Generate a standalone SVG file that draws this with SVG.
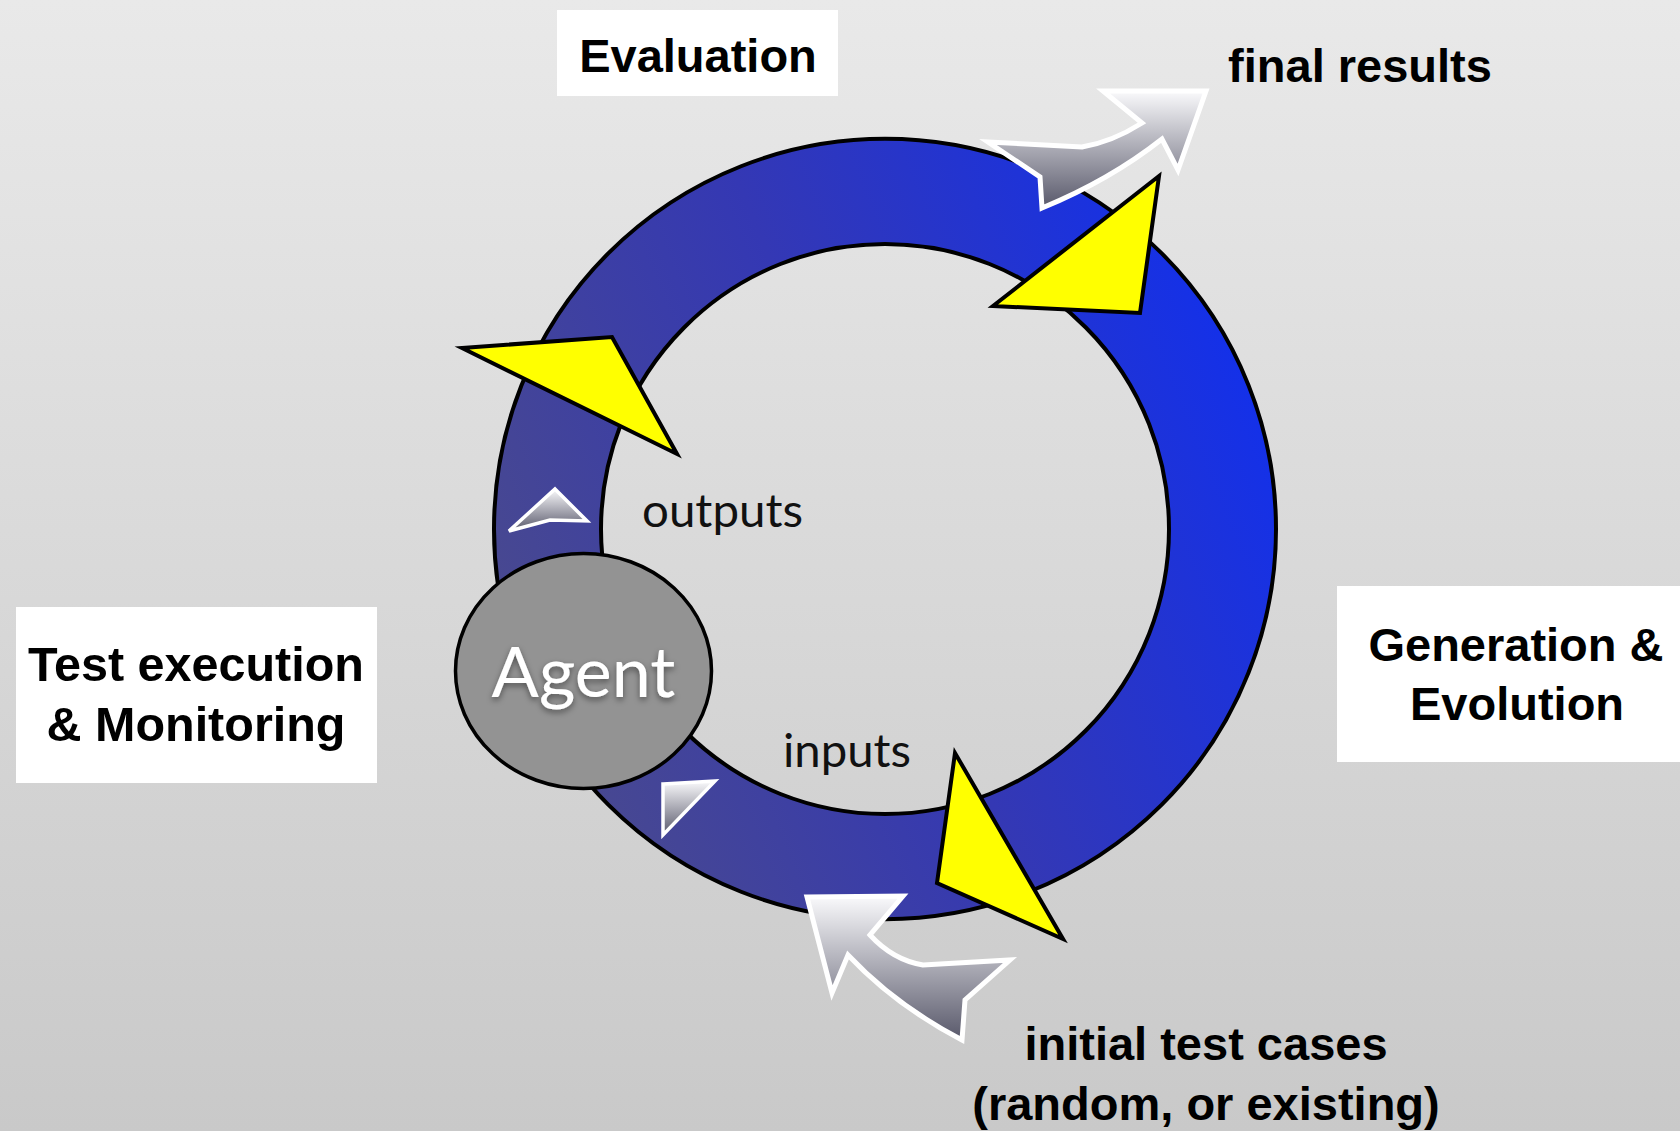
<svg xmlns="http://www.w3.org/2000/svg" width="1680" height="1131" viewBox="0 0 1680 1131">
<defs>
<linearGradient id="bg" x1="0" y1="0" x2="0" y2="1">
<stop offset="0" stop-color="#e9e9e9"/>
<stop offset="1" stop-color="#c9c9c9"/>
</linearGradient>
<linearGradient id="ringGrad" gradientUnits="userSpaceOnUse" x1="494" y1="700" x2="1276" y2="380">
<stop offset="0" stop-color="#4a4a8c"/>
<stop offset="0.5" stop-color="#3438b4"/>
<stop offset="1" stop-color="#1230ec"/>
</linearGradient>
<linearGradient id="grayArrow" x1="0" y1="0" x2="0" y2="1">
<stop offset="0" stop-color="#fafafc"/>
<stop offset="1" stop-color="#58586a"/>
</linearGradient>
<filter id="shadow" x="-20%" y="-20%" width="140%" height="160%">
<feDropShadow dx="0" dy="3" stdDeviation="3" flood-color="#000" flood-opacity="0.45"/>
</filter>
<style>
.box { fill: #ffffff; }
.lbl { font-family: "Liberation Sans", Arial, sans-serif; font-weight: bold; font-size: 47px; fill: #000; text-anchor: middle; }
.lbl.big { font-size: 48.5px; }
.small { font-family: Lato, "Open Sans", sans-serif; font-size: 47px; fill: #111; }
.yellow { fill: #ffff00; stroke: #000; stroke-width: 4; stroke-linejoin: miter; }
.gray { fill: url(#grayArrow); stroke: #ffffff; stroke-width: 5; stroke-linejoin: miter; }
.tri { fill: url(#grayArrow); stroke: #ffffff; stroke-width: 3.5; stroke-linejoin: miter; }
</style>
</defs>
<rect x="0" y="0" width="1680" height="1131" fill="url(#bg)"/>

<g id="connectors">
<path id="ring" d="M494,529 A391,390 0 1,0 1276,529 A391,390 0 1,0 494,529 Z M601,529 A284,285 0 1,1 1169,529 A284,285 0 1,1 601,529 Z" fill="url(#ringGrad)" fill-rule="evenodd" stroke="#000" stroke-width="4"/>
<path id="arrow-final" class="gray" d="M988,142 L1082,147 Q1112,142 1142,123 L1103,91 L1206,91 L1178,170 L1162,139 Q1110,180 1042,208 L1040,177 Z"/>
<path id="arrow-initial" class="gray" d="M807,897 L903,896 L870,935 Q893,960 923,965 L1010,960 L965,1000 L962,1040 Q895,1005 848,955 L832,993 Z"/>
<polygon id="yellow-top" class="yellow" points="1159,176 993,306 1140,313"/>
<polygon id="yellow-left" class="yellow" points="462,348 612,337 677,454"/>
<polygon id="yellow-bottom" class="yellow" points="955,753 937,883 1063,939"/>
<polygon id="tri-outputs" class="tri" points="555,489 587,521 550,520 509,531"/>
<polygon id="tri-inputs" class="tri" points="663,784 715,781 663,835"/>
</g>

<g id="node-evaluation">
<rect class="box" x="557" y="10" width="281" height="86"/>
<text class="lbl" x="698" y="72">Evaluation</text>
</g>

<g id="node-generation">
<rect class="box" x="1337" y="586" width="343" height="176"/>
<text class="lbl" x="1516" y="661">Generation &amp;</text>
<text class="lbl" x="1517" y="720">Evolution</text>
</g>

<g id="node-test">
<rect class="box" x="16" y="607" width="361" height="176"/>
<text class="lbl big" x="196" y="681">Test execution</text>
<text class="lbl big" x="196" y="741">&amp; Monitoring</text>
</g>

<g id="node-agent">
<ellipse cx="583.5" cy="671" rx="128" ry="117.5" fill="#939393" stroke="#000" stroke-width="3.5"/>
<text x="583.5" y="697" font-family="Lato, 'Open Sans', sans-serif" font-size="70" fill="#ffffff" text-anchor="middle" filter="url(#shadow)">Agent</text>
</g>

<g id="label-outputs">
<text class="small" x="642" y="527" textLength="161" lengthAdjust="spacingAndGlyphs">outputs</text>
</g>
<g id="label-inputs">
<text class="small" x="783" y="767" textLength="128" lengthAdjust="spacingAndGlyphs">inputs</text>
</g>
<g id="label-final">
<text class="lbl" x="1360" y="82">final results</text>
</g>
<g id="label-initial">
<text class="lbl" x="1206" y="1060">initial test cases</text>
<text class="lbl" x="1206" y="1120">(random, or existing)</text>
</g>
</svg>
